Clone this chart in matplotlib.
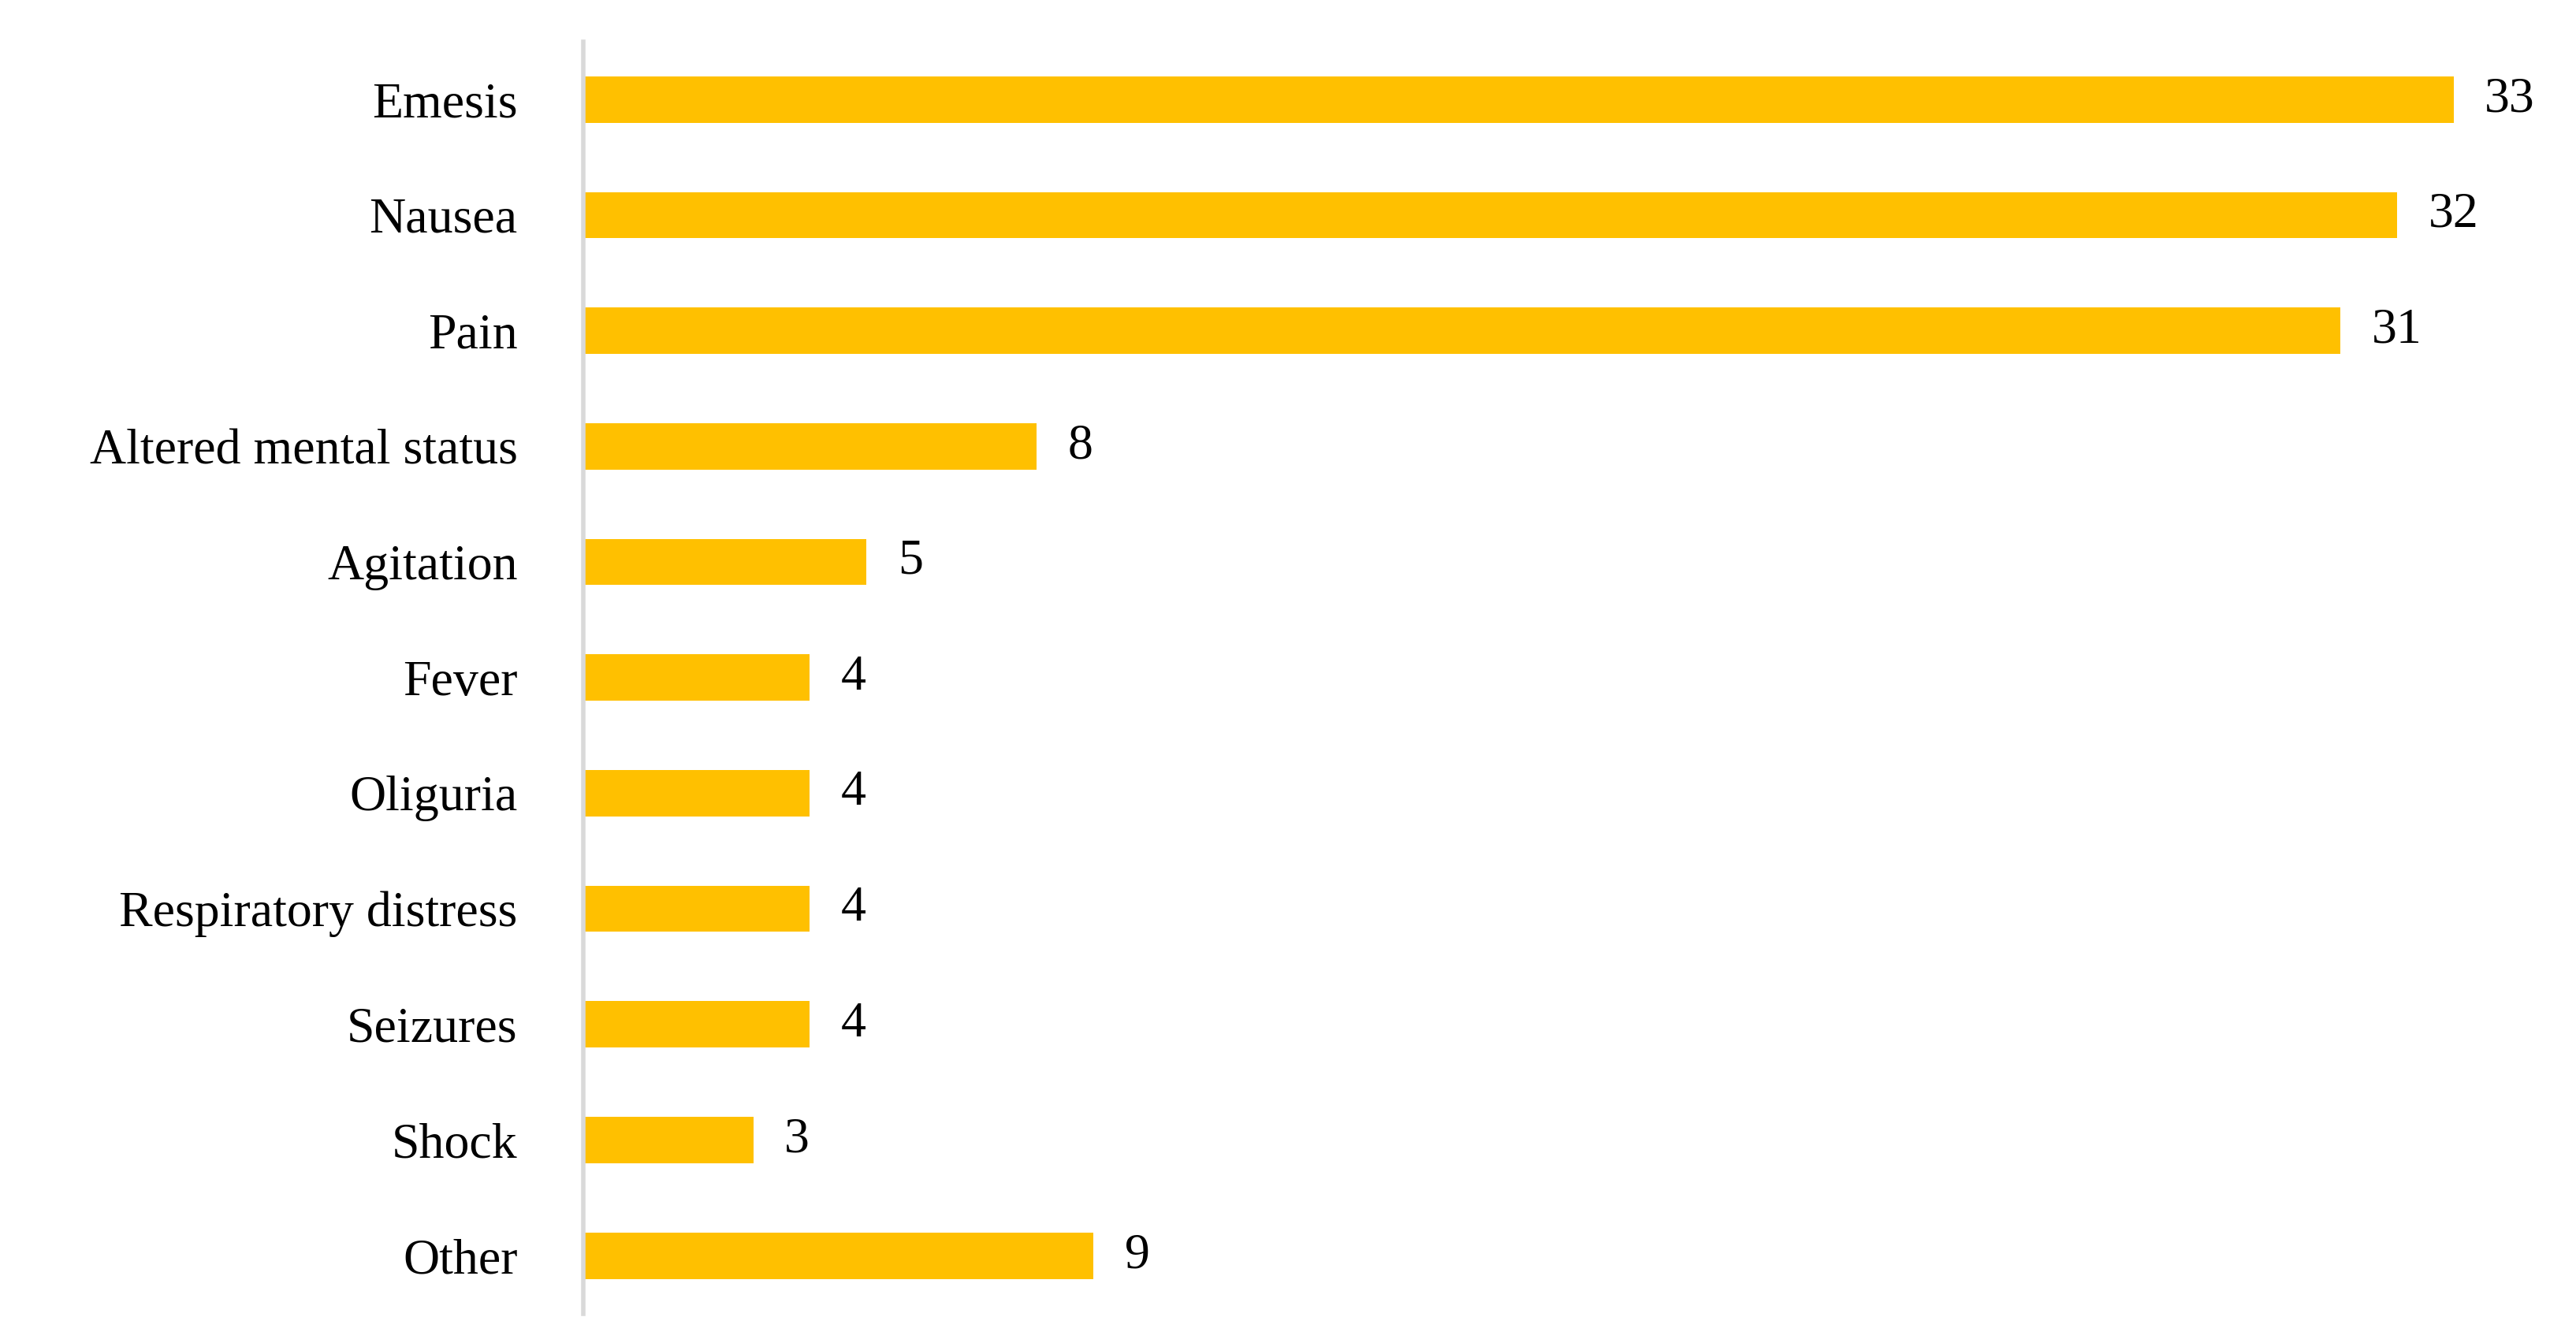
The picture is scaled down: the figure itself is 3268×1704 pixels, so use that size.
import matplotlib.pyplot as plt

# symptom counts, top to bottom
symptoms = ['Emesis', 'Nausea', 'Pain', 'Altered mental status', 'Agitation',
            'Fever', 'Oliguria', 'Respiratory distress', 'Seizures', 'Shock', 'Other']
counts = [33, 32, 31, 8, 5, 4, 4, 4, 4, 3, 9]

plt.rcParams['font.family'] = ['Liberation Serif', 'DejaVu Serif']

fig = plt.figure(figsize=(16.34, 8.52), dpi=200)
ax = fig.add_axes([0.2264, 0.022, 0.7736, 0.947])

pos = list(range(len(symptoms)))
ax.barh(pos, counts, height=0.4, color='#FFC000')
for p, c in zip(pos, counts):
    ax.text(c + 0.55, p, str(c), va='center', ha='left', fontsize=23)

ax.set_ylim(len(symptoms) - 0.5, -0.5)
ax.set_xlim(0, 35.16)
ax.set_yticks(pos)
ax.set_yticklabels(symptoms, fontsize=23)
ax.tick_params(axis='y', length=0, pad=30)
ax.set_xticks([])
for s in ['top', 'right', 'bottom']:
    ax.spines[s].set_visible(False)
ax.spines['left'].set_color('#D9D9D9')
ax.spines['left'].set_linewidth(2)

fig.savefig('out.png', dpi=200)
